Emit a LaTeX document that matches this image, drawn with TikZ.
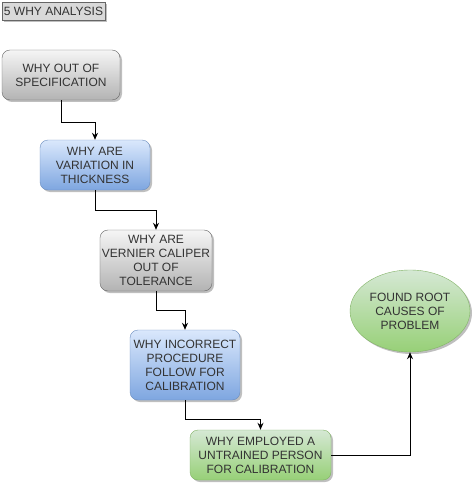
\documentclass[tikz,border=0pt]{standalone}
\usepackage{fontspec}
\setmainfont{Liberation Sans}
\usetikzlibrary{shapes.geometric, arrows.meta, positioning, calc, shadows}

\definecolor{txtgray}{HTML}{333333}
\definecolor{grayline}{HTML}{666666}
\definecolor{graytop}{HTML}{F5F5F5}
\definecolor{graybot}{HTML}{B3B3B3}
\definecolor{blueline}{HTML}{6C8EBF}
\definecolor{bluetop}{HTML}{DAE8FC}
\definecolor{bluebot}{HTML}{7EA6E0}
\definecolor{greenline}{HTML}{82B366}
\definecolor{greentop}{HTML}{D5E8D4}
\definecolor{greenbot}{HTML}{97D077}

\begin{document}
\begin{tikzpicture}[
  x=1pt, y=-1pt,
  whybox/.style={draw, rounded corners=8pt, font=\fontsize{12}{14}\selectfont,
    text=txtgray, align=center, inner sep=2pt,
    drop shadow={shadow xshift=2pt, shadow yshift=-2pt, fill=black, opacity=0.25}},
  graybox/.style={whybox, draw=grayline, top color=graytop, bottom color=graybot},
  bluebox/.style={whybox, draw=blueline, top color=bluetop, bottom color=bluebot},
  greenbox/.style={whybox, draw=greenline, top color=greentop, bottom color=greenbot},
  link/.style={-{Stealth[length=7pt, width=6pt]}, line width=1pt, black},
]
  \useasboundingbox (0,0) rectangle (473,484);

  %% TITLE
  \node[draw=grayline, fill=gray!30, font=\fontsize{12}{14}\selectfont, text=txtgray,
    minimum width=103pt, minimum height=18pt, inner sep=1pt,
    drop shadow={shadow xshift=2pt, shadow yshift=-2pt, fill=black, opacity=0.25}]
    (title) at (53.5,11) {5 WHY ANALYSIS};

  %% THE FIVE WHYS
  \node[graybox, minimum width=118pt, minimum height=50pt] (why1) at (61,75)
    {WHY OUT OF\\SPECIFICATION};
  \node[bluebox, minimum width=110pt, minimum height=50pt] (why2) at (95,165)
    {WHY ARE\\VARIATION IN\\THICKNESS};
  \node[graybox, minimum width=112pt, minimum height=61pt] (why3) at (156,260.5)
    {WHY ARE\\VERNIER CALIPER\\OUT OF\\TOLERANCE};
  \node[bluebox, minimum width=110pt, minimum height=70pt] (why4) at (185,365)
    {WHY INCORRECT\\PROCEDURE\\FOLLOW FOR\\CALIBRATION};
  \node[greenbox, minimum width=141pt, minimum height=50pt] (why5) at (260.5,455)
    {WHY EMPLOYED A\\UNTRAINED PERSON\\FOR CALIBRATION};

  %% ROOT CAUSE
  \node[ellipse, whybox, draw=greenline, top color=greentop, bottom color=greenbot,
    minimum width=120pt, minimum height=82pt]
    (root) at (410,311) {FOUND ROOT\\CAUSES OF\\PROBLEM};

  %% STEP CONNECTORS
  \draw[link] (why1.south) -- ++(0,22) -| (why2.north);
  \draw[link] (why2.south) -- ++(0,20) -| (why3.north);
  \draw[link] (why3.south) -- ++(0,19) -| (why4.north);
  \draw[link] (why4.south) -- ++(0,19) -| (why5.north);
  \draw[link] (why5.east) -| (root.south);

\end{tikzpicture}
\end{document}
